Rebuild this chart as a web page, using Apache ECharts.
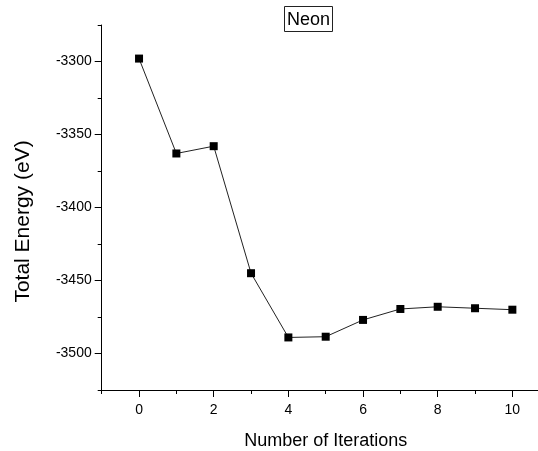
<!DOCTYPE html>
<html>
<head>
<meta charset="utf-8">
<script src="https://cdn.jsdelivr.net/npm/echarts@6/dist/echarts.min.js"></script>
<style>
  html, body { margin: 0; padding: 0; background: #fff; }
  #chart { width: 538px; height: 451px; }
</style>
</head>
<body>
<div id="chart"></div>
<script>
// data
const iterations = [0, 1, 2, 3, 4, 5, 6, 7, 8, 9, 10];
const totalEnergy = [-3298, -3363, -3358, -3445, -3489, -3488.5, -3477, -3469.5, -3468, -3469, -3470];

// ticks
const xMajorTicks = [0, 2, 4, 6, 8, 10];
const xMinorTicks = [-1, 1, 3, 5, 7, 9, 11];
const yMajorTicks = [-3500, -3450, -3400, -3350, -3300];
const yMinorTicks = [-3525, -3475, -3425, -3375, -3325, -3275];

const font = "'Liberation Sans', Arial, sans-serif";

const chart = echarts.init(document.getElementById('chart'), null, {renderer: 'canvas'});

const axisBase = {
    type: 'value',
    axisLine: {show: true, onZero: false, lineStyle: {color: '#000', width: 1}},
    splitLine: {show: false}
};
const hiddenLine = {show: false, onZero: false};

const option = {
    backgroundColor: '#fff',
    animation: false,
    title: {
        text: 'Neon',
        left: 284,
        top: 6,
        padding: [5, 3, 3, 3],
        borderWidth: 1,
        borderColor: '#222',
        textStyle: {fontFamily: font, fontSize: 18, fontWeight: 'normal', color: '#000'}
    },
    // x axis runs on past the right edge of the picture, to 11
    grid: {left: 101.7, width: 448, top: 25, bottom: 61, outerBoundsMode: 'none', containLabel: false},
    xAxis: [
        Object.assign({}, axisBase, {
            position: 'bottom',
            min: -1, max: 11, interval: 1,
            name: 'Number of Iterations',
            nameLocation: 'middle',
            nameGap: 42,
            nameTextStyle: {fontFamily: font, fontSize: 18, color: '#000'},
            axisTick: {show: true, length: 7, customValues: xMajorTicks, lineStyle: {color: '#000'}},
            axisLabel: {customValues: xMajorTicks, margin: 13, fontFamily: font, fontSize: 14, color: '#000'}
        }),
        Object.assign({}, axisBase, {
            position: 'bottom',
            min: -1, max: 11, interval: 1,
            axisLine: hiddenLine,
            axisTick: {show: true, length: 4, customValues: xMinorTicks, lineStyle: {color: '#000'}},
            axisLabel: {show: false}
        })
    ],
    yAxis: [
        Object.assign({}, axisBase, {
            position: 'left',
            min: -3525, max: -3275, interval: 25,
            name: 'Total Energy (eV)',
            nameLocation: 'middle',
            nameGap: 68,
            nameTextStyle: {fontFamily: font, fontSize: 21, color: '#000', padding: [0, 28, 0, 0]},
            axisTick: {show: true, length: 7, customValues: yMajorTicks, lineStyle: {color: '#000'}},
            axisLabel: {
                customValues: yMajorTicks, margin: 10,
                fontFamily: font, fontSize: 14, color: '#000',
                formatter: v => String(v)
            }
        }),
        Object.assign({}, axisBase, {
            position: 'left',
            min: -3525, max: -3275, interval: 25,
            axisLine: hiddenLine,
            axisTick: {show: true, length: 4, customValues: yMinorTicks, lineStyle: {color: '#000'}},
            axisLabel: {show: false}
        })
    ],
    series: [{
        type: 'line',
        xAxisIndex: 0,
        yAxisIndex: 0,
        data: iterations.map((x, i) => [x, totalEnergy[i]]),
        symbol: 'rect',
        symbolSize: 8,
        itemStyle: {color: '#000'},
        lineStyle: {color: '#222', width: 1},
        clip: false
    }]
};

chart.setOption(option);
</script>
</body>
</html>
